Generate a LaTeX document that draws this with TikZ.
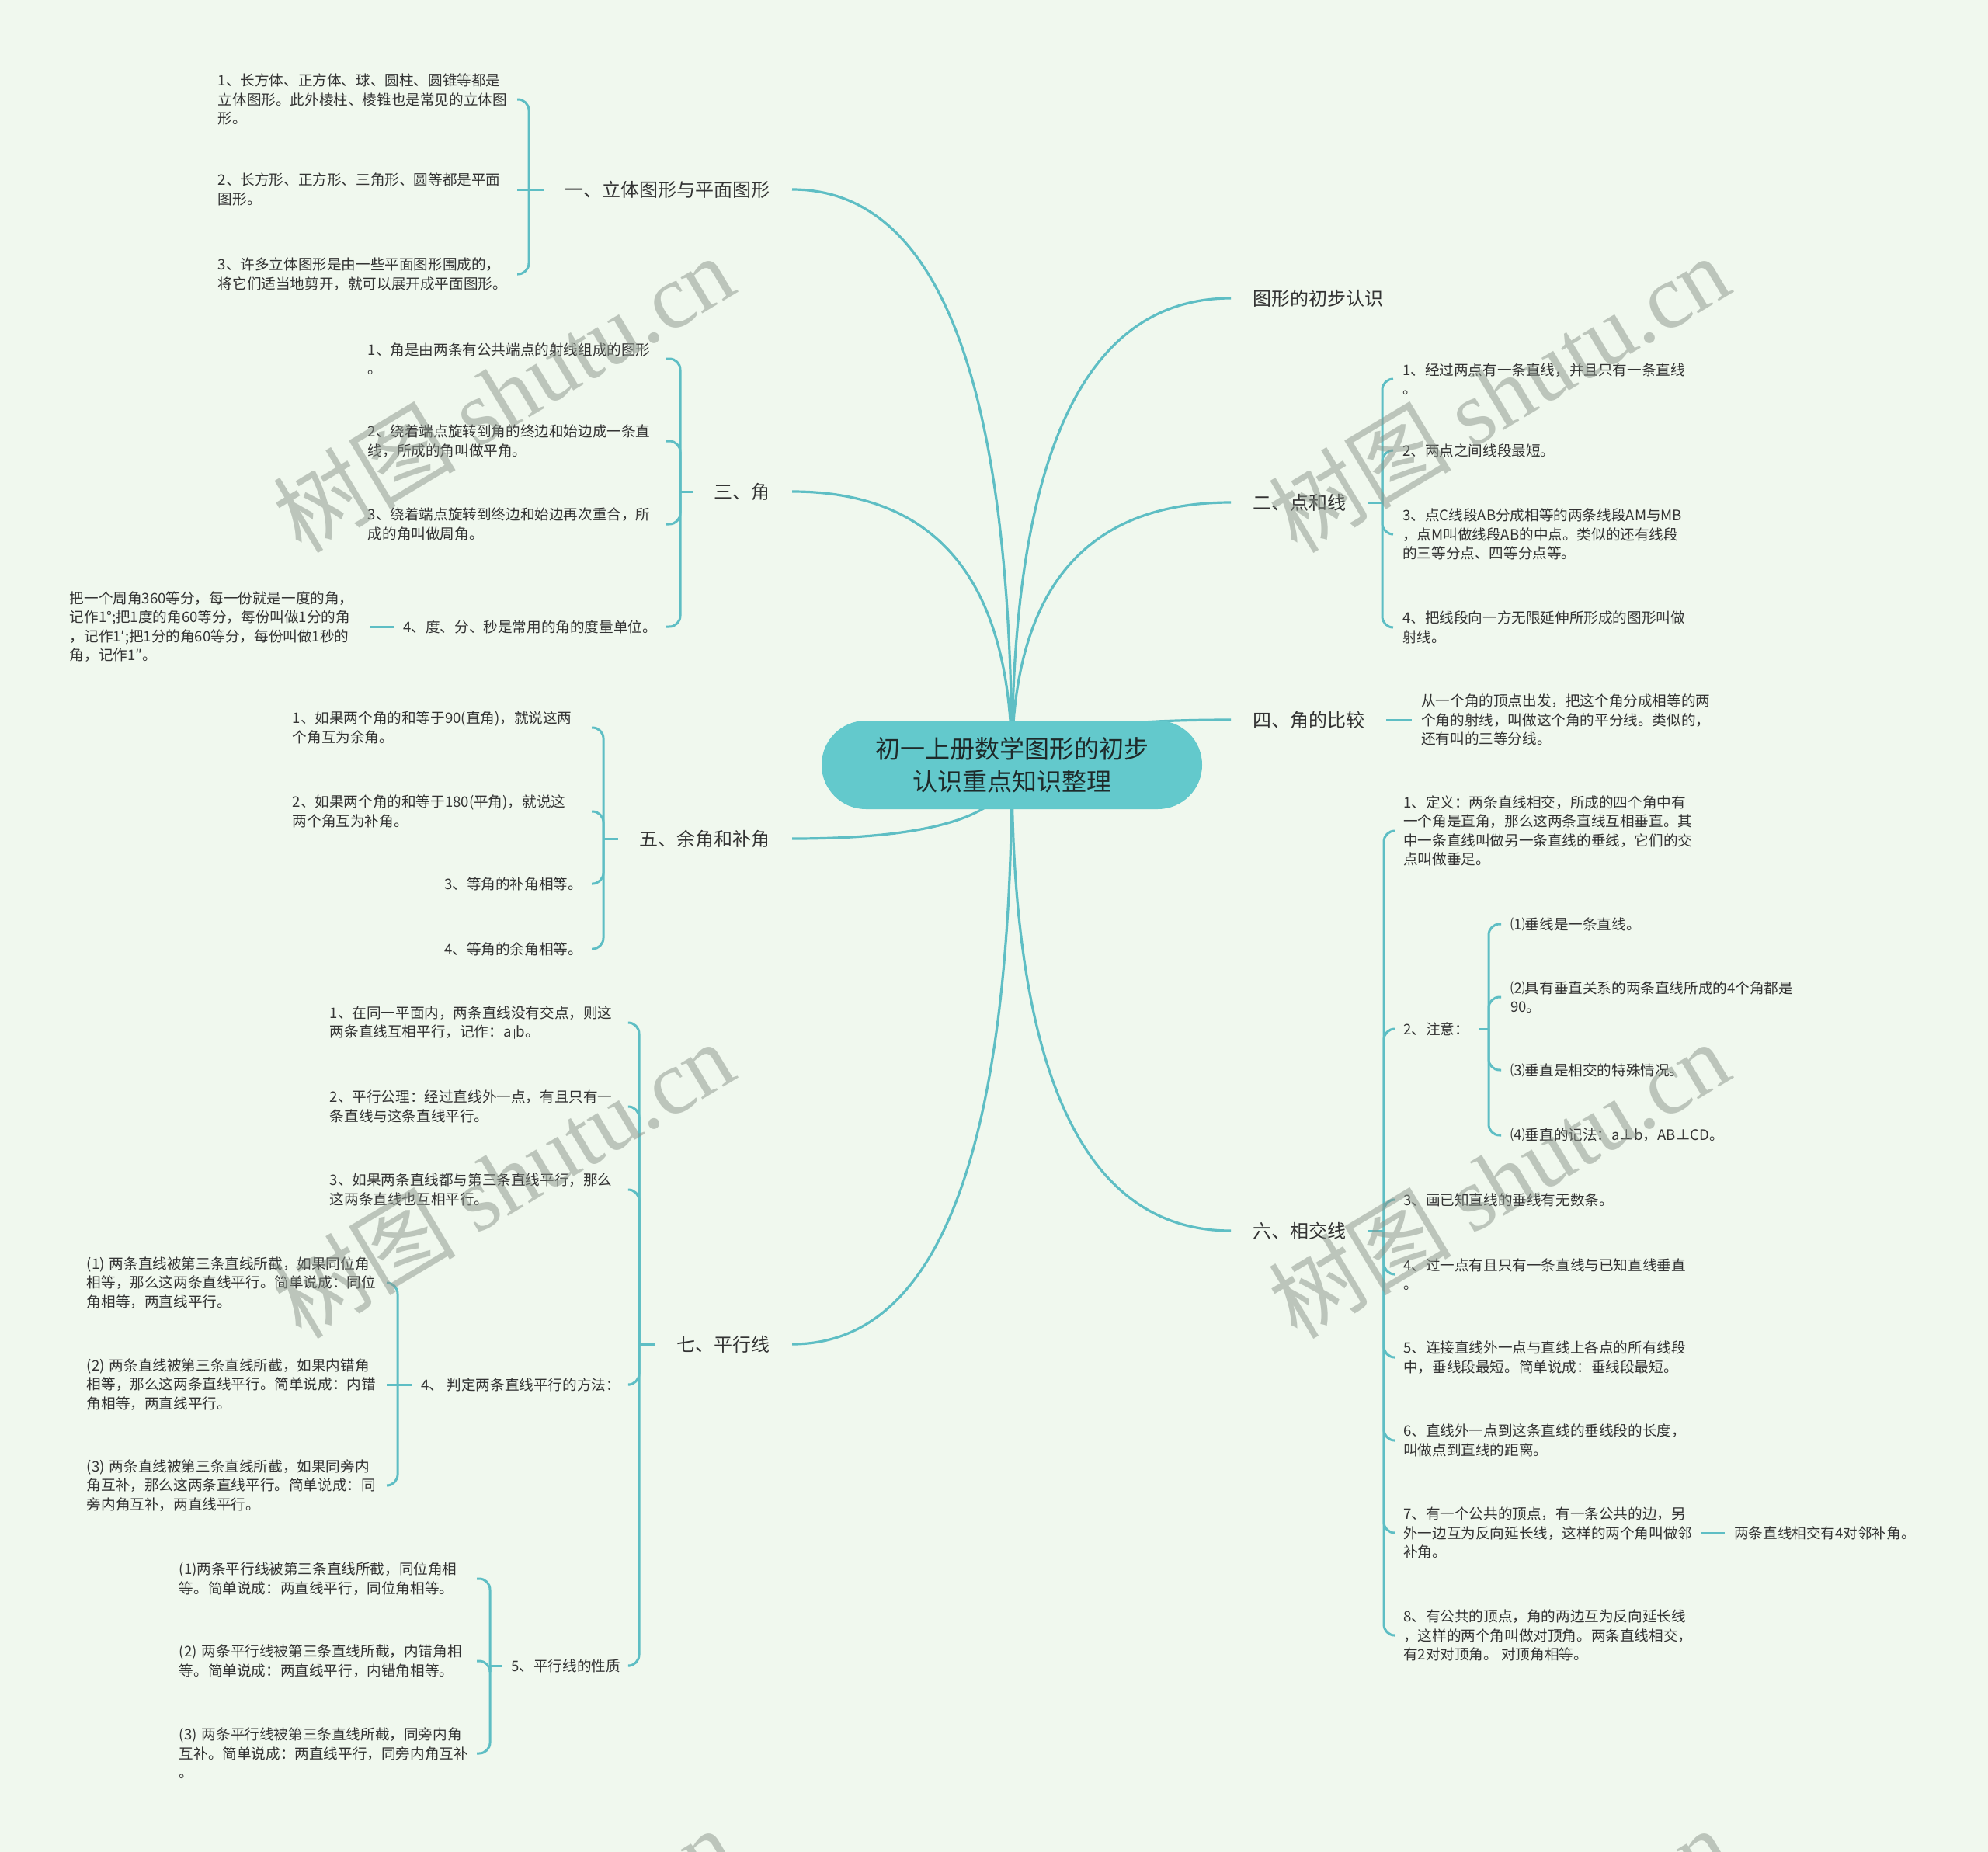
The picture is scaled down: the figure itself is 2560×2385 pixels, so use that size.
\documentclass[tikz,border=0pt]{standalone}
\usepackage{fontspec}
\setmainfont{Noto Sans CJK SC}
\newfontfamily\wmlatin{Liberation Serif}
\newfontfamily\symfont{DejaVu Sans}
\usetikzlibrary{calc}
\definecolor{bgc}{HTML}{F0F8EE}
\definecolor{linec}{HTML}{5EBEC4}
\definecolor{rootc}{HTML}{63C9CC}
\definecolor{txt}{HTML}{333333}
\definecolor{roottxt}{HTML}{1E2A2A}
\definecolor{wmc}{HTML}{8A948A}
\pgfdeclarelayer{bg}\pgfdeclarelayer{lines}\pgfdeclarelayer{wmlayer}
\pgfsetlayers{bg,lines,main,wmlayer}
\newcommand\myconn[2]{\coordinate (k#2) at (root.center |- #1);
  \draw[mainconn] (root.center) .. controls ($(root.center)!0.667!(k#2)$) and ($(#1)!0.667!(k#2)$) .. (#1);}
\begin{document}
\begin{tikzpicture}[x=1pt,y=-1pt,
  conn/.style={draw=linec,line width=3pt},
  mainconn/.style={draw=linec,line width=3.2pt},
  brk/.style={draw=linec,line width=3pt,rounded corners=14pt},
  rootnode/.style={fill=rootc, rounded corners=57pt, minimum width=490pt, minimum height=114pt, align=center, font=\fontsize{32}{42.5}\selectfont, text=roottxt},
  branch/.style={inner xsep=28pt, inner ysep=6pt, font=\fontsize{24}{30}\selectfont, text=txt},
  lleaf/.style={anchor=east, align=left, inner xsep=12pt, inner ysep=4pt, font=\fontsize{18.6}{24.5}\selectfont, text=txt},
  rleaf/.style={anchor=west, align=left, inner xsep=12pt, inner ysep=4pt, font=\fontsize{18.6}{24.5}\selectfont, text=txt},
  tw/.style={text width=#1pt},
  wm/.style={text=wmc, opacity=0.5, rotate=31, font=\fontsize{118}{118}\selectfont}
]
\useasboundingbox (0,0) rectangle (2560,2385);
\begin{pgfonlayer}{bg}
\fill[bgc] (0,0) rectangle (2560,2385);
\end{pgfonlayer}

% root
\node[rootnode] (root) at (1303,985) {初一上册数学图形的初步\\认识重点知识整理};

% main branches
\node[branch,anchor=east] (b1) at (1020,244) {一、立体图形与平面图形};
\node[branch,anchor=east] (b3) at (1020,633) {三、角};
\node[branch,anchor=east] (b5) at (1020,1080) {五、余角和补角};
\node[branch,anchor=east] (b7) at (1020,1731) {七、平行线};
\node[branch,anchor=west] (b0) at (1585,384) {图形的初步认识};
\node[branch,anchor=west] (b2) at (1585,647) {二、点和线};
\node[branch,anchor=west] (b4) at (1585,927) {四、角的比较};
\node[branch,anchor=west] (b6) at (1585,1585) {六、相交线};

% spines
\coordinate (s1) at (681,244);
\coordinate (s3) at (876,633);
\coordinate (s5) at (777,1080);
\coordinate (s7) at (823,1731);
\coordinate (s74) at (512,1783);
\coordinate (s75) at (631,2145);
\coordinate (s2) at (1780,647);
\coordinate (s6) at (1782,1585);
\coordinate (s62) at (1917,1325);

% section 1
\node[lleaf,tw=373] (a11) at (666,128) {1、长方体、正方体、球、圆柱、圆锥等都是\\立体图形。此外棱柱、棱锥也是常见的立体图\\形。};
\node[lleaf,tw=373] (a12) at (666,244) {2、长方形、正方形、三角形、圆等都是平面\\图形。};
\node[lleaf,tw=373] (a13) at (666,353) {3、许多立体图形是由一些平面图形围成的，\\将它们适当地剪开，就可以展开成平面图形。};

% section 3
\node[lleaf,tw=372] (a31) at (858,462) {1、角是由两条有公共端点的射线组成的图形\\。};
\node[lleaf,tw=372] (a32) at (858,568) {2、绕着端点旋转到角的终边和始边成一条直\\线，所成的角叫做平角。};
\node[lleaf,tw=372] (a33) at (858,675) {3、绕着端点旋转到终边和始边再次重合，所\\成的角叫做周角。};
\node[lleaf] (a34) at (858,807) {4、度、分、秒是常用的角的度量单位。};
\node[lleaf,tw=374] (a341) at (476,807) {把一个周角360等分，每一份就是一度的角，\\记作1°;把1度的角60等分，每份叫做1分的角\\，记作1′;把1分的角60等分，每份叫做1秒的\\角，记作1″。};

% section 5
\node[lleaf,tw=373] (a51) at (762,937) {1、如果两个角的和等于90(直角)，就说这两\\个角互为余角。};
\node[lleaf,tw=373] (a52) at (762,1045) {2、如果两个角的和等于180(平角)，就说这\\两个角互为补角。};
\node[lleaf] (a53) at (762,1138) {3、等角的补角相等。};
\node[lleaf] (a54) at (762,1222) {4、等角的余角相等。};

% section 7
\node[lleaf,tw=374] (a71) at (811,1317) {1、在同一平面内，两条直线没有交点，则这\\两条直线互相平行，记作：a{\symfont\fontsize{13}{13}\selectfont ∥}b。};
\node[lleaf,tw=374] (a72) at (811,1425) {2、平行公理：经过直线外一点，有且只有一\\条直线与这条直线平行。};
\node[lleaf,tw=374] (a73) at (811,1532) {3、如果两条直线都与第三条直线平行，那么\\这两条直线也互相平行。};
\node[lleaf] (a74) at (811,1783) {4、 判定两条直线平行的方法：};
\node[lleaf] (a75) at (811,2145) {5、平行线的性质};
\node[lleaf,tw=374] (c741) at (498,1652) {(1) 两条直线被第三条直线所截，如果同位角\\相等，那么这两条直线平行。简单说成：同位\\角相等，两直线平行。};
\node[lleaf,tw=374] (c742) at (498,1783) {(2) 两条直线被第三条直线所截，如果内错角\\相等，那么这两条直线平行。简单说成：内错\\角相等，两直线平行。};
\node[lleaf,tw=374] (c743) at (498,1913) {(3) 两条直线被第三条直线所截，如果同旁内\\角互补，那么这两条直线平行。简单说成：同\\旁内角互补，两直线平行。};
\node[lleaf,tw=371] (c751) at (614,2033) {(1)两条平行线被第三条直线所截，同位角相\\等。简单说成：两直线平行，同位角相等。};
\node[lleaf,tw=371] (c752) at (614,2139) {(2) 两条平行线被第三条直线所截，内错角相\\等。简单说成：两直线平行，内错角相等。};
\node[lleaf,tw=371] (c753) at (614,2258) {(3) 两条平行线被第三条直线所截，同旁内角\\互补。简单说成：两直线平行，同旁内角互补\\。};

% section 2
\node[rleaf] (e21) at (1794,488) {1、经过两点有一条直线，并且只有一条直线\\。};
\node[rleaf] (e22) at (1794,580) {2、两点之间线段最短。};
\node[rleaf] (e23) at (1794,688) {3、点C线段AB分成相等的两条线段AM与MB\\，点M叫做线段AB的中点。类似的还有线段\\的三等分点、四等分点等。};
\node[rleaf] (e24) at (1794,808) {4、把线段向一方无限延伸所形成的图形叫做\\射线。};

% section 4
\node[rleaf] (e41) at (1818,927) {从一个角的顶点出发，把这个角分成相等的两\\个角的射线，叫做这个角的平分线。类似的，\\还有叫的三等分线。};

% section 6
\node[rleaf] (d61) at (1795,1070) {1、定义：两条直线相交，所成的四个角中有\\一个角是直角，那么这两条直线互相垂直。其\\中一条直线叫做另一条直线的垂线，它们的交\\点叫做垂足。};
\node[rleaf] (d62) at (1795,1325) {2、注意：};
\node[rleaf] (d63) at (1795,1545) {3、画已知直线的垂线有无数条。};
\node[rleaf] (d64) at (1795,1641) {4、过一点有且只有一条直线与已知直线垂直\\。};
\node[rleaf] (d65) at (1795,1748) {5、连接直线外一点与直线上各点的所有线段\\中，垂线段最短。简单说成：垂线段最短。};
\node[rleaf] (d66) at (1795,1855) {6、直线外一点到这条直线的垂线段的长度，\\叫做点到直线的距离。};
\node[rleaf] (d67) at (1795,1974) {7、有一个公共的顶点，有一条公共的边，另\\外一边互为反向延长线，这样的两个角叫做邻\\补角。};
\node[rleaf] (d68) at (1795,2106) {8、有公共的顶点，角的两边互为反向延长线\\，这样的两个角叫做对顶角。两条直线相交，\\有2对对顶角。 对顶角相等。};
\node[rleaf] (d671) at (2221,1974) {两条直线相交有4对邻补角。};
\node[rleaf] (d621) at (1933,1190) {⑴垂线是一条直线。};
\node[rleaf] (d622) at (1933,1284) {⑵具有垂直关系的两条直线所成的4个角都是\\90。};
\node[rleaf] (d623) at (1933,1378) {⑶垂直是相交的特殊情况。};
\node[rleaf] (d624) at (1933,1462) {⑷垂直的记法：a⊥b，AB⊥CD。};

\begin{pgfonlayer}{lines}
% main connectors
\myconn{b1.east}{1}
\myconn{b3.east}{3}
\myconn{b5.east}{5}
\myconn{b7.east}{7}
\myconn{b0.west}{0}
\myconn{b2.west}{2}
\myconn{b4.west}{4}
\myconn{b6.west}{6}
% section 1
\draw[conn] (b1.west) -- (s1);
\draw[brk] (s1) |- (a11.east);
\draw[conn] (s1) -- (a12.east);
\draw[brk] (s1) |- (a13.east);
% section 3
\draw[conn] (b3.west) -- (s3);
\draw[brk] (s3) |- (a31.east);
\draw[brk] (s3) |- (a32.east);
\draw[brk] (s3) |- (a33.east);
\draw[brk] (s3) |- (a34.east);
\draw[conn] (a34.west) -- (a341.east);
% section 5
\draw[conn] (b5.west) -- (s5);
\draw[brk] (s5) |- (a51.east);
\draw[brk] (s5) |- (a52.east);
\draw[brk] (s5) |- (a53.east);
\draw[brk] (s5) |- (a54.east);
% section 7
\draw[conn] (b7.west) -- (s7);
\draw[brk] (s7) |- (a71.east);
\draw[brk] (s7) |- (a72.east);
\draw[brk] (s7) |- (a73.east);
\draw[brk] (s7) |- (a74.east);
\draw[brk] (s7) |- (a75.east);
\draw[conn] (a74.west) -- (s74);
\draw[brk] (s74) |- (c741.east);
\draw[conn] (s74) -- (c742.east);
\draw[brk] (s74) |- (c743.east);
\draw[conn] (a75.west) -- (s75);
\draw[brk] (s75) |- (c751.east);
\draw[brk] (s75) |- (c752.east);
\draw[brk] (s75) |- (c753.east);
% section 2
\draw[conn] (b2.east) -- (s2);
\draw[brk] (s2) |- (e21.west);
\draw[brk] (s2) |- (e22.west);
\draw[brk] (s2) |- (e23.west);
\draw[brk] (s2) |- (e24.west);
% section 4
\draw[conn] (b4.east) -- (e41.west);
% section 6
\draw[conn] (b6.east) -- (s6);
\draw[brk] (s6) |- (d61.west);
\draw[brk] (s6) |- (d62.west);
\draw[brk] (s6) |- (d63.west);
\draw[brk] (s6) |- (d64.west);
\draw[brk] (s6) |- (d65.west);
\draw[brk] (s6) |- (d66.west);
\draw[brk] (s6) |- (d67.west);
\draw[brk] (s6) |- (d68.west);
\draw[conn] (d62.east) -- (s62);
\draw[brk] (s62) |- (d621.west);
\draw[brk] (s62) |- (d622.west);
\draw[brk] (s62) |- (d623.west);
\draw[brk] (s62) |- (d624.west);
\draw[conn] (d67.east) -- (d671.west);
\end{pgfonlayer}

\begin{pgfonlayer}{wmlayer}
\node[wm] (wm1) at (648,506) {树图 {\wmlatin shutu.cn}};
\node[wm] (wm2) at (1930,506) {树图 {\wmlatin shutu.cn}};
\node[wm] (wm3) at (648,1518) {树图 {\wmlatin shutu.cn}};
\node[wm] (wm4) at (1930,1518) {树图 {\wmlatin shutu.cn}};
\node[wm] (wm5) at (648,2531) {树图 {\wmlatin shutu.cn}};
\node[wm] (wm6) at (1930,2531) {树图 {\wmlatin shutu.cn}};
\end{pgfonlayer}
\end{tikzpicture}
\end{document}
